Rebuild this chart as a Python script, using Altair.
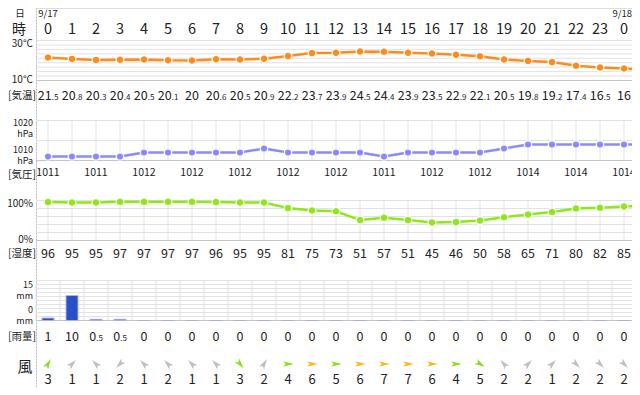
import altair as alt
import pandas as pd

# ---------------- data ----------------
hour_labels = ["0", "1", "2", "3", "4", "5", "6", "7", "8", "9", "10", "11", "12",
               "13", "14", "15", "16", "17", "18", "19", "20", "21", "22", "23", "0"]
date_labels = ["9/17", "9/18"]
date_hours = [0, 24]

temperature = [21.5, 20.8, 20.3, 20.4, 20.5, 20.1, 20.0, 20.6, 20.5, 20.9, 22.2, 23.7, 23.9,
               24.5, 24.4, 23.9, 23.5, 22.9, 22.1, 20.5, 19.8, 19.2, 17.4, 16.5, 16.0]
temperature_next = 15.3          # line continues past the right edge

pressure = [1011, 1011, 1011, 1011, 1012, 1012, 1012, 1012, 1012, 1013, 1012, 1012, 1012,
            1012, 1011, 1012, 1012, 1012, 1012, 1013, 1014, 1014, 1014, 1014, 1014]
pressure_next = 1014

humidity = [96, 95, 95, 97, 97, 97, 97, 96, 95, 95, 81, 75, 73,
            51, 57, 51, 45, 46, 50, 58, 65, 71, 80, 82, 85]
humidity_next = 87

rainfall = [1, 10, 0.5, 0.5, 0, 0, 0, 0, 0, 0, 0, 0, 0,
            0, 0, 0, 0, 0, 0, 0, 0, 0, 0, 0, 0]

wind_speed = [3, 1, 1, 2, 1, 2, 1, 1, 3, 2, 4, 6, 5, 6, 7, 7, 6, 4, 5, 2, 2, 1, 2, 2, 2]
# direction the arrow points, degrees clockwise from north
wind_direction = [30, 45, 315, 225, 315, 315, 315, 315, 140, 30, 90, 90, 90,
                  90, 90, 90, 90, 90, 120, 320, 45, 45, 135, 135, 135]

temp_ticks = [30, 10]
pressure_ticks = [1020, 1010]
humidity_ticks = [100, 0]
rain_ticks = [15, 0]

# ---------------- layout / style ----------------
OY = 8                      # page y of the plot top
OX = 36                     # page x of the plot left


def py(y):
    return y - OY


W, H = 596, 379
FONT = "Noto Sans CJK JP"
TXT = "#222222"
GRID = "#e2e2e2"
BASE = "#c4c4c4"
ORANGE = "#ff8c1a"
LAVENDER = "#8a8aff"
LIME = "#8ee818"
RAINBLUE = "#2b4fc6"

XS = alt.Scale(domain=[-0.5, 24.3333], zero=False, nice=False, padding=0)
N = len(hour_labels)
idx = list(range(N))


def X(field="i"):
    return alt.X(f"{field}:Q", scale=XS, axis=None)


def yscale(lo, hi, y_lo, y_hi):
    return alt.Scale(domain=[lo, hi], range=[py(y_lo), py(y_hi)], zero=False, nice=False,
                     padding=0)


TS = yscale(10, 30, 80.5, 40.5)
PS = yscale(1010, 1020, 160.5, 120.5)
HS = yscale(0, 100, 240.5, 200.5)
RS = yscale(0, 16, 320.5, 280.5)

one = pd.DataFrame({"a": [0]})


def left_label(text, x, y, size, baseline="middle"):
    return alt.Chart(one).mark_text(text=text, font=FONT, fontSize=size, color=TXT,
                                    align="center", baseline=baseline
                                    ).encode(x=alt.value(x - OX), y=alt.value(py(y)))


def hgrid(values, scale, dark_value):
    df = pd.DataFrame({"v": values})
    df["c"] = [BASE if v == dark_value else GRID for v in values]
    return alt.Chart(df).mark_rule(strokeWidth=1).encode(
        y=alt.Y("v:Q", scale=scale, axis=None), x=alt.value(0), x2=alt.value(W),
        color=alt.Color("c:N", scale=None))


def vgrid(xs, y_top, y_bot):
    df = pd.DataFrame({"i": xs})
    return alt.Chart(df).mark_rule(color=GRID, strokeWidth=1).encode(
        x=X(), y=alt.value(py(y_top)), y2=alt.value(py(y_bot)))


def series(values, nxt):
    return pd.DataFrame({"i": idx + [N], "v": list(values) + [nxt]})


def line_with_points(df, scale, color, size):
    line = alt.Chart(df).mark_line(color=color, strokeWidth=2.5, clip=True).encode(
        x=X(), y=alt.Y("v:Q", scale=scale, axis=None))
    pts = alt.Chart(df[df["i"] < N]).mark_circle(
        color=color, opacity=1, size=size, stroke="white", strokeWidth=1.2).encode(
        x=X(), y=alt.Y("v:Q", scale=scale, axis=None))
    return [line, pts]


def split_labels(ids, values, y, big, small):
    rows = []
    for i, v in zip(ids, values):
        s = f"{v:g}"
        if "." in s:
            ip, d = s.split(".")
            dp = "." + d
            wd = 0.27 * small + 0.56 * small * len(d)
        else:
            ip, dp, wd = s, "", 0.0
        wi = 0.56 * big * len(ip)
        rows.append({"i": i + (wi - wd) / 2 / 24.0, "ip": ip, "dp": dp})
    df = pd.DataFrame(rows)
    a = alt.Chart(df).mark_text(font=FONT, fontSize=big, color=TXT, align="right",
                                baseline="alphabetic").encode(
        x=X(), y=alt.value(py(y)), text="ip:N")
    b = alt.Chart(df).mark_text(font=FONT, fontSize=small, color=TXT, align="left",
                                baseline="alphabetic").encode(
        x=X(), y=alt.value(py(y)), text="dp:N")
    return [a, b]


AX = -3   # right edge of the axis labels, relative to the plot's left


def axis_labels(ticks, scale, top_text, bot_text, unit=None):
    df_top = pd.DataFrame({"v": [ticks[0]], "t": [top_text]})
    df_bot = pd.DataFrame({"v": [ticks[1]], "t": [bot_text]})
    enc = dict(y=alt.Y("v:Q", scale=scale, axis=None), x=alt.value(AX), text="t:N")
    out = []
    if unit is None:
        out.append(alt.Chart(df_top).mark_text(font=FONT, fontSize=10, color=TXT, align="right",
                                               baseline="middle", dy=3).encode(**enc))
        out.append(alt.Chart(df_bot).mark_text(font=FONT, fontSize=10, color=TXT, align="right",
                                               baseline="middle", dy=-0.5).encode(**enc))
    else:
        for df, dy in ((df_top, 2.0), (df_bot, -10.5)):
            out.append(alt.Chart(df).mark_text(font=FONT, fontSize=9, color=TXT, align="right",
                                               baseline="middle", dy=dy).encode(**enc))
            out.append(alt.Chart(df).mark_text(text=unit, font=FONT, fontSize=9, color=TXT,
                                               align="right", baseline="middle", dy=dy + 11
                                               ).encode(y=enc["y"], x=alt.value(AX)))
    return out


layers = []

# separator dotted line
layers.append(alt.Chart(one).mark_rule(color="#b5b5b5", strokeDash=[1, 2], strokeWidth=1).encode(
    x=alt.value(0.5), y=alt.value(0), y2=alt.value(H)))

# header rows
layers.append(left_label("日", 20, 9, 9.5, "top"))
layers.append(left_label("時", 19, 29.5, 14))
df_d0 = pd.DataFrame({"i": date_hours[:1], "t": date_labels[:1]})
df_d1 = pd.DataFrame({"i": date_hours[1:], "t": date_labels[1:]})
layers.append(alt.Chart(df_d0).mark_text(font=FONT, fontSize=9.5, color=TXT, baseline="top"
                                         ).encode(x=X(), y=alt.value(py(9)), text="t:N"))
layers.append(alt.Chart(df_d1).mark_text(font=FONT, fontSize=9.5, color=TXT, baseline="top",
                                         align="right", dx=8).encode(x=X(), y=alt.value(py(9)),
                                                                     text="t:N"))
df_hours = pd.DataFrame({"i": idx, "t": hour_labels})
layers.append(alt.Chart(df_hours).mark_text(font=FONT, fontSize=14.5, color=TXT, baseline="middle"
                                            ).encode(x=X(), y=alt.value(py(30)), text="t:N"))

# ---- temperature ----
layers.append(hgrid([10 + 20 * k / 9 for k in range(10)], TS, 10))
layers += axis_labels(temp_ticks, TS, "30°C", "10°C")
layers += line_with_points(series(temperature, temperature_next), TS, ORANGE, 60)
layers += split_labels(idx, temperature, 100, 12.5, 8)
layers.append(left_label("[気温]", 22, 96, 10.5))

# ---- pressure ----
layers.append(vgrid(idx, 120.5, 160.5))
layers.append(hgrid([1010, 1015, 1020], PS, 1010))
layers += axis_labels(pressure_ticks, PS, "1020", "1010", "hPa")
layers += line_with_points(series(pressure, pressure_next), PS, LAVENDER, 55)
df_p = pd.DataFrame({"i": idx[::2], "t": [str(v) for v in pressure[::2]]})
layers.append(alt.Chart(df_p).mark_text(font=FONT, fontSize=10.5, color=TXT, baseline="middle"
                                        ).encode(x=X(), y=alt.value(py(173)), text="t:N"))
layers.append(left_label("[気圧]", 22, 175, 10.5))

# ---- humidity ----
layers.append(vgrid(idx, 200.5, 240.5))
layers.append(hgrid([0, 20, 40, 60, 80, 100], HS, 0))
layers += axis_labels(humidity_ticks, HS, "100%", "0%")
layers += line_with_points(series(humidity, humidity_next), HS, LIME, 60)
df_h = pd.DataFrame({"i": idx, "t": [str(v) for v in humidity]})
layers.append(alt.Chart(df_h).mark_text(font=FONT, fontSize=12.5, color=TXT, baseline="middle"
                                        ).encode(x=X(), y=alt.value(py(254)), text="t:N"))
layers.append(left_label("[湿度]", 22, 254, 10.5))

# ---- rainfall ----
layers.append(vgrid([k - 0.5 for k in range(N + 1)], 280.5, 320.5))
layers.append(hgrid([1.6 * k for k in range(11)], RS, 0))
layers += axis_labels(rain_ticks, RS, "15", "0", "mm")
df_r = pd.DataFrame({"i": idx, "v": rainfall})
layers.append(alt.Chart(df_r).mark_bar(size=12, color=RAINBLUE, stroke="#a9b6d8", strokeWidth=1
                                       ).encode(x=X(), y=alt.Y("v:Q", scale=RS, axis=None)))
layers += split_labels(idx, rainfall, 341, 12.5, 8)
layers.append(left_label("[雨量]", 22, 337, 10.5))

# ---- wind ----
ARROW = "M0,-1L0.5,0.85L0,0.4L-0.5,0.85Z"
df_w = pd.DataFrame({"i": idx, "s": wind_speed, "d": wind_direction})
df_w["c"] = ["#ffb522" if s >= 6 else ("#84e01c" if s >= 3 else "#bdbdbd") for s in wind_speed]
layers.append(alt.Chart(df_w).mark_point(shape=ARROW, filled=True, opacity=1, size=130).encode(
    x=X(), y=alt.value(py(364)), angle=alt.Angle("d:Q", scale=None),
    color=alt.Color("c:N", scale=None)))
layers.append(alt.Chart(df_w).mark_text(font=FONT, fontSize=13, color=TXT, baseline="middle"
                                        ).encode(x=X(), y=alt.value(py(380)), text="s:N"))
layers.append(left_label("風", 25, 367, 15))

chart = alt.layer(*layers).resolve_scale(y="independent").properties(
    width=W, height=H,
    padding={"left": OX - 8, "top": 0, "right": 0, "bottom": 0},
    autosize=alt.AutoSizeParams(type="none"),
).configure_view(stroke=None).configure(background="white")

chart.save("out.html", embed_options={"renderer": "svg", "actions": False})
